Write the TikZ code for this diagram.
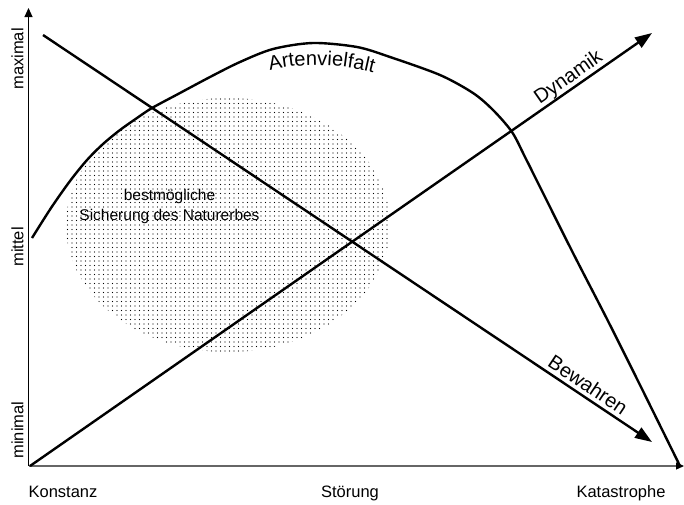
\documentclass[tikz,border=0pt]{standalone}
\usepackage{fontspec}
\setmainfont{Liberation Sans}
\usetikzlibrary{arrows.meta,patterns.meta,decorations.text,calc}
\begin{document}
\begin{tikzpicture}[x=1pt,y=1pt,
  bigarrow/.style={line width=2.4pt, -{Triangle[length=17pt,width=12pt]}},
  curvestyle/.style={line width=2.4pt},
  axlabel/.style={font=\fontsize{16.5}{18}\selectfont, inner sep=0pt},
  biglabel/.style={font=\fontsize{20}{22}\selectfont, inner sep=0pt, anchor=base},
  innerlabel/.style={font=\fontsize{15.5}{18}\selectfont, inner sep=0pt, anchor=base},
]
\useasboundingbox (0,0) rectangle (684,-504);
% dotted area
\fill[pattern={Dots[distance=4.5pt, radius=0.7pt]}, pattern color=black]
  (228,-225) ellipse [x radius=162, y radius=127];
\node[innerlabel] (t1) at (169.5,-200) {bestmögliche};
\node[innerlabel] (t2) at (169.5,-220) {Sicherung des Naturerbes};
% axes
\coordinate (O) at (28.5,-466);
\coordinate (Ytop) at (28.5,-8);
\coordinate (Xend) at (684,-466);
\draw[line width=1pt, -{Triangle[length=9pt,width=8pt]}] (O) -- (Ytop);
\draw[line width=1.2pt, black!60, -{Triangle[length=8pt,width=7pt,color=black]}] (O) -- (Xend);
% curve
\draw[curvestyle] plot[smooth, tension=0.5] coordinates {
  (32,-238) (51,-208) (70,-181) (87,-160) (103,-144) (120,-130) (137,-118)
  (152,-108) (180,-93) (210,-77) (240,-62) (273,-49) (313,-43) (357,-47)
  (390,-57) (440,-75) (473,-93) (493,-110) (512,-132) (525,-157) (540,-187)
  (573,-253) (608,-321) (640,-385) (680,-466)};
\path[decorate, decoration={text along path, text align=center,
  text={|\fontsize{20}{20}\selectfont|Artenvielfalt}}]
  (258,-74) .. controls (295,-62) and (340,-62) .. (385,-76);
% arrows
\coordinate (Ds) at (30,-466);
\coordinate (De) at (652,-33);
\coordinate (Bs) at (43,-35);
\coordinate (Be) at (652,-442);
\draw[bigarrow] (Ds) -- (De);
\draw[bigarrow] (Bs) -- (Be);
\coordinate (dp) at ($(Ds)!0.876!(De)$);
\coordinate (bp) at ($(Bs)!0.884!(Be)$);
\node[biglabel, rotate=34.84] (dl) at ($(dp)!5.5pt!90:(De)$) {Dynamik};
\node[biglabel, rotate=-33.75] (bl) at ($(bp)!5pt!90:(Be)$) {Bewahren};
% axis labels
\node[axlabel, rotate=90] (lmax) at (17.5,-59) {maximal};
\node[axlabel, rotate=90] (lmit) at (17.5,-247) {mittel};
\node[axlabel, rotate=90] (lmin) at (17.5,-430) {minimal};
\node[axlabel, anchor=base] (k1) at (63,-497) {Konstanz};
\node[axlabel, anchor=base] (k2) at (350,-497) {Störung};
\node[axlabel, anchor=base] (k3) at (621,-497) {Katastrophe};
\end{tikzpicture}
\end{document}
